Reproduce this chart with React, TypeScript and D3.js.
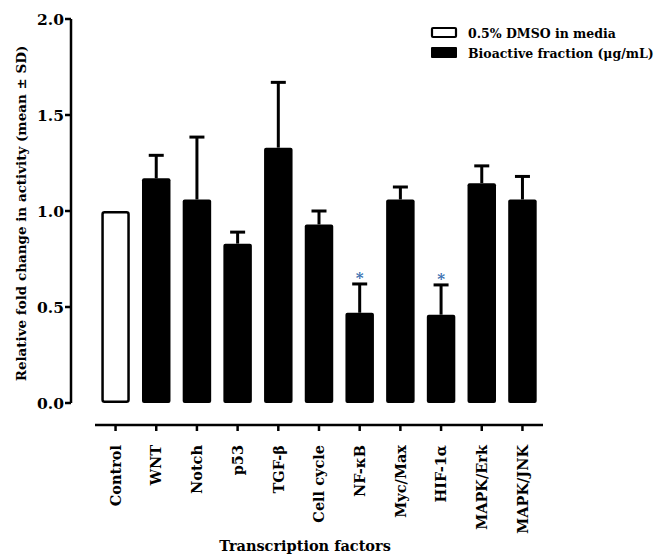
import React from "react";
import * as d3 from "d3";

const categories = ["Control", "WNT", "Notch", "p53", "TGF-β", "Cell cycle", "NF-κB", "Myc/Max", "HIF-1α", "MAPK/Erk", "MAPK/JNK"];
const means = [1.0, 1.17, 1.06, 0.83, 1.33, 0.93, 0.47, 1.06, 0.46, 1.145, 1.06];
const sds = [0, 0.12, 0.325, 0.06, 0.34, 0.07, 0.15, 0.065, 0.155, 0.09, 0.12];
const significant = [false, false, false, false, false, false, true, false, true, false, false];
const yTicks = [0, 0.5, 1.0, 1.5, 2.0];
const legendLabels = ["0.5% DMSO in media", "Bioactive fraction (μg/mL)"];

const W = 662, H = 555;
const FONT = "'DejaVu Serif', 'Liberation Serif', serif";

export default function App() {
  const y = d3.scaleLinear().domain([0, 2]).range([403, 19]);
  const x = d3.scaleBand().domain(categories).range([95, 543]).paddingInner(0.3).paddingOuter(0.155);
  const bw = x.bandwidth();
  return (
    <svg width={W} height={H} style={{ position: "absolute", left: 0, top: 0, background: "#fff" }} fontFamily={FONT}>
      {/* y axis */}
      <line x1={71} x2={71} y1={y(2)} y2={y(0)} stroke="#000" strokeWidth={2.5} />
      {yTicks.map(t => (
        <g key={t}>
          <line x1={65} x2={71} y1={y(t)} y2={y(t)} stroke="#000" strokeWidth={2.5} />
          <text x={64} y={y(t)} dy="0.36em" textAnchor="end" fontSize={15.5} fontWeight="bold">{t.toFixed(1)}</text>
        </g>
      ))}
      <text transform={`translate(26,${(42 + 385) / 2}) rotate(-90)`} textAnchor="middle" fontSize={13.5} fontWeight="bold">
        Relative fold change in activity (mean ± SD)
      </text>
      {/* bars */}
      {categories.map((c, i) => {
        const x0 = x(c)!;
        const cx = x0 + bw / 2;
        const top = y(means[i]);
        const isCtrl = i === 0;
        return (
          <g key={c}>
            {sds[i] > 0 && (
              <g stroke="#000" strokeWidth={3}>
                <line x1={cx} x2={cx} y1={top} y2={y(means[i] + sds[i])} />
                <line x1={cx - 7.5} x2={cx + 7.5} y1={y(means[i] + sds[i])} y2={y(means[i] + sds[i])} />
              </g>
            )}
            <rect x={isCtrl ? x0 + 1.25 : x0} y={isCtrl ? top + 1.25 : top} width={isCtrl ? bw - 2.5 : bw}
              height={isCtrl ? y(0) - top - 2.5 : y(0) - top} rx={2}
              fill={isCtrl ? "#fff" : "#000"} stroke="#000" strokeWidth={isCtrl ? 2.5 : 0} />
            {significant[i] && (
              <text x={cx} y={y(means[i] + sds[i]) - 1} textAnchor="middle" fontSize={15} fontWeight="bold" fill="#3a6fb0">*</text>
            )}
          </g>
        );
      })}
      {/* x axis */}
      <line x1={95} x2={543} y1={425} y2={425} stroke="#000" strokeWidth={2.5} />
      {categories.map(c => {
        const cx = x(c)! + bw / 2;
        return (
          <g key={c}>
            <line x1={cx} x2={cx} y1={425} y2={431} stroke="#000" strokeWidth={2.5} />
            <text transform={`translate(${cx},445) rotate(-90)`} dy="0.36em" textAnchor="end" fontSize={14.5} fontWeight="bold">{c}</text>
          </g>
        );
      })}
      <text x={305} y={551} textAnchor="middle" fontSize={14.5} fontWeight="bold">Transcription factors</text>
      {/* legend */}
      <rect x={432} y={28} width={24} height={9} fill="#fff" stroke="#000" strokeWidth={2.2} rx={1} />
      <rect x={431} y={47} width={26} height={11} fill="#000" rx={1} />
      <text x={468} y={33} dy="0.36em" fontSize={12.5} fontWeight="bold">{legendLabels[0]}</text>
      <text x={468} y={53} dy="0.36em" fontSize={12.5} fontWeight="bold">{legendLabels[1]}</text>
    </svg>
  );
}
